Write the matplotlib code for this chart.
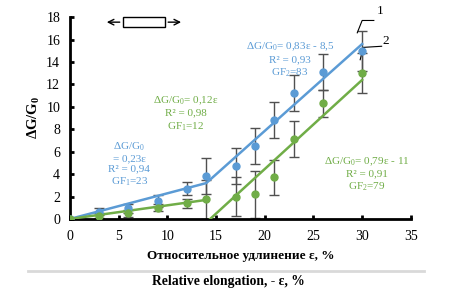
import matplotlib
matplotlib.use("Agg")
import matplotlib.pyplot as plt
from matplotlib.patches import Rectangle

plt.rcParams['font.family'] = ['Liberation Serif', 'DejaVu Serif']
plt.rcParams['mathtext.fontset'] = 'custom'
plt.rcParams['mathtext.rm'] = 'Liberation Serif'
plt.rcParams['mathtext.it'] = 'Liberation Serif:italic'
plt.rcParams['mathtext.bf'] = 'Liberation Serif:bold'

# data
strain = [0, 3, 6, 9, 12, 14, 17, 19, 21, 23, 26, 30]
blue_y = [0, 0.65, 0.95, 1.6, 2.7, 3.8, 4.7, 6.5, 8.8, 11.2, 13.1, 15.0]
blue_err = [0.1, 0.3, 0.4, 0.5, 0.6, 1.6, 1.6, 1.6, 1.6, 1.6, 1.6, 1.8]
green_y = [0, 0.3, 0.5, 1.0, 1.4, 1.75, 2.0, 2.2, 3.7, 7.1, 10.3, 13.0]
green_err = [0.1, 0.2, 0.3, 0.3, 0.4, 1.75, 1.7, 2.1, 1.6, 1.6, 1.2, 1.8]

blue_fit_x = [0, 14, 30]
blue_fit_y = [0, 3.2, 15.6]
green_fit1_x = [0, 14]
green_fit1_y = [0, 1.7]
green_fit2_x = [14.4, 30]
green_fit2_y = [0, 12.4]

blue = '#5b9bd5'
green = '#70ad47'
err_col = '#505050'

fig = plt.figure(figsize=(4.57, 2.90), dpi=100)
ax = fig.add_axes([0.153, 0.245, 0.746, 0.696])

ax.errorbar(strain, blue_y, yerr=blue_err, fmt='none', ecolor=err_col,
            elinewidth=1, capsize=3.5, capthick=1, zorder=2)
ax.errorbar(strain, green_y, yerr=green_err, fmt='none', ecolor=err_col,
            elinewidth=1, capsize=3.5, capthick=1, zorder=2)

ax.plot(blue_fit_x, blue_fit_y, color=blue, lw=1.8, zorder=3)
ax.plot(green_fit1_x, green_fit1_y, color=green, lw=1.8, zorder=3)
ax.plot(green_fit2_x, green_fit2_y, color=green, lw=1.8, zorder=3)

ax.plot(strain, blue_y, 'o', color=blue, ms=5, zorder=4)
ax.plot(strain, green_y, 'o', color=green, ms=5, zorder=4)

ax.set_xlim(0, 35)
ax.set_ylim(0, 18)
ax.set_xticks(range(0, 36, 5))
ax.set_yticks(range(0, 19, 2))
for s in ['top', 'right']:
    ax.spines[s].set_visible(False)
for s in ['left', 'bottom']:
    ax.spines[s].set_linewidth(2)
ax.tick_params(direction='in', width=2, length=3, labelsize=10, pad=8)
ax.tick_params(axis='y', pad=7)

ax.set_xlabel('Относительное удлинение ε, %', fontsize=9.5, fontweight='bold', labelpad=5)
ax.set_ylabel(r'$\mathbf{\Delta G/G_0}$', fontsize=10.5, labelpad=3)

# arrow icon at top
ax.add_patch(Rectangle((5.4, 17.1), 4.4, 0.9, fill=False, lw=1, clip_on=False))
ax.annotate('', xy=(3.5, 17.55), xytext=(5.4, 17.55),
            arrowprops=dict(arrowstyle='->', lw=1), annotation_clip=False)
ax.annotate('', xy=(11.7, 17.55), xytext=(9.8, 17.55),
            arrowprops=dict(arrowstyle='->', lw=1), annotation_clip=False)

# curve labels
ax.plot([29.5, 30.0, 31.2], [16.6, 17.7, 17.7], color='black', lw=0.8, clip_on=False)
ax.text(31.5, 18.3, '1', fontsize=9.5)
ax.plot([29.8, 30.1, 32.0], [14.2, 15.3, 15.4], color='black', lw=0.8, clip_on=False)
ax.text(32.1, 15.6, '2', fontsize=9.5)

fs = 8
ax.text(22.6, 14.2, '$\\Delta$G/G$_0$= 0,83ε - 8,5\nR² = 0,93\nGF$_2$=83', color=blue,
        fontsize=fs, ha='center', va='center', linespacing=1.25)
ax.text(11.9, 9.4, '$\\Delta$G/G$_0$= 0,12ε\nR² = 0,98\nGF$_1$=12', color=green,
        fontsize=fs, ha='center', va='center', linespacing=1.25)
ax.text(6.1, 4.9, '$\\Delta$G/G$_0$\n= 0,23ε\nR² = 0,94\nGF$_1$=23', color=blue,
        fontsize=fs, ha='center', va='center', linespacing=1.2)
ax.text(30.5, 4.0, '$\\Delta$G/G$_0$= 0,79ε - 11\nR² = 0,91\nGF$_2$=79', color=green,
        fontsize=fs, ha='center', va='center', linespacing=1.25)

# caption line and English label
fig.add_artist(plt.Line2D([28 / 457, 424 / 457], [1 - 271 / 290, 1 - 271 / 290],
                          color='#d9d9d9', lw=2))
fig.text(228 / 457, 1 - 281 / 290, 'Relative elongation, - ε, %', fontsize=9.8,
         fontweight='bold', ha='center', va='center')

fig.savefig('out.png', dpi=100)
